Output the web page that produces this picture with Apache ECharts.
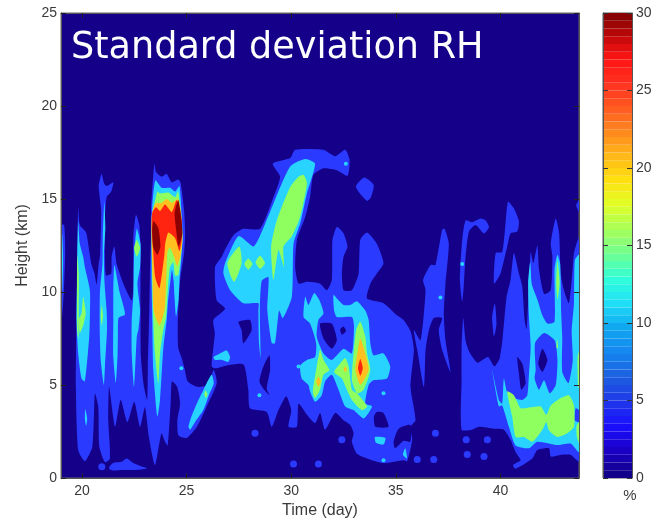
<!DOCTYPE html>
<html><head><meta charset="utf-8">
<style>html,body{margin:0;padding:0;background:#fff}#c{width:656px;height:519px;filter:blur(0.6px)}</style>
<script src="https://cdn.jsdelivr.net/npm/echarts@6/dist/echarts.min.js"></script>
</head><body><div id="c"></div>
<script>
const xTicks=[20,25,30,35,40];
const cbLevels=[0,.5,1,1.5,2,2.5,3,3.5,4,4.5,5,5.5,6,6.5,7,7.5,8,8.5,9,9.5,10,10.5,11,11.5,12,12.5,13,13.5,14,14.5,15,15.5,16,16.5,17,17.5,18,18.5,19,19.5,20,20.5,21,21.5,22,22.5,23,23.5,24,24.5,25,25.5,26,26.5,27,27.5,28,28.5,29,29.5];
const cbColors=['#12008a','#1a00c8','#1a10ff','#2038e8','#1c60e0','#1488f0','#10a8f0','#20e0f8','#30ffd8','#70ff90','#a8ff58','#e0ff28','#ffe010','#ffb818','#ff8820','#ff5820','#ff3020','#ff1414','#b80808','#700000'];

// contour regions, each vertex [day, km]
const band5=[
 [[19,13.6],[19.15,13.6],[19.2,12.26],[19.14,10.1],[19.04,8.5],[19,8.3]],
 [[19.75,9],[19.78,11],[19.82,14.6],[19.9,13.6],[20.2,13.2],[20.35,12.2],[20.45,11.5],[20.6,11],[20.7,10.4],[20.8,11.5],[20.87,12],[20.92,14.4],[20.8,15.7],[20.94,16.35],[21.07,15.8],[21.2,15.7],[21.5,15.9],[21.4,15.4],[21.18,15.1],[21.1,14],[21.1,12],[21.15,10.9],[21.4,11],[21.42,11.9],[21.55,12.45],[21.66,11.5],[21.98,10.45],[22.38,9.55],[22.46,10.45],[22.46,13],[22.58,14.15],[22.74,13.6],[22.8,12.25],[22.8,9.2],[22.82,6.5],[22.95,5],[23.12,4.2],[23.15,6],[23.22,9],[23.25,11],[23.3,13],[23.3,14.4],[23.46,16.9],[23.54,16.45],[23.81,16.2],[24.05,16.35],[24.29,15.9],[24.6,16.05],[24.72,15.85],[24.88,14.4],[24.93,13.15],[24.88,12.1],[24.69,10.65],[24.58,8.3],[24.6,7],[24.75,6.5],[24.9,5.9],[25.05,5.2],[25.5,4.9],[26,5],[26.3,5.8],[26.44,5.1],[25.96,3.85],[25.49,2.75],[25.01,2.15],[24.61,2.3],[24.56,3.1],[24.69,4],[24.55,4.9],[24.3,5.2],[24.24,4],[24.1,1.75],[23.95,2],[23.8,2.4],[23.49,.7],[23.2,2.2],[23.01,3.8],[22.78,2.76],[22.5,4.1],[22.17,3],[21.85,4.2],[21.58,2.76],[21.3,4.9],[21.26,3.1],[21.34,1.05],[21.1,.85],[20.83,1.7],[20.78,3.85],[20.62,4.55],[20.5,1.7],[20.14,.9],[19.82,1.5],[19.71,4.9],[19.74,8.5]],
 [[21.31,.6],[21.5,.82],[21.9,.88],[22.14,1.05],[22.46,.8],[22.78,.65],[23.13,.52],[22.6,.43],[21.9,.43],[21.5,.4],[21.31,.48]],
 [[26.28,8.5],[26.84,9.1],[26.44,9.55],[26.36,11.35],[26.68,11.9],[26.85,12.3],[27.24,13.05],[27.71,13.4],[28.51,13.4],[29.15,15.1],[29.47,16.2],[29.12,16.9],[29.95,17.2],[30.19,17.65],[31.54,17.65],[32.1,17.3],[32.58,17.65],[32.79,17.1],[32.69,16.25],[32.18,16.55],[31.54,16.65],[31.06,16.3],[30.9,15.1],[30.67,14.05],[30.27,12.8],[30.19,11.35],[30.35,10.45],[30.75,10.55],[31.38,10.45],[31.7,10.1],[31.94,10.65],[31.97,12.8],[32.18,13.5],[32.5,13.15],[32.69,12.45],[32.5,11.9],[32.42,11],[32.5,10.1],[32.9,10.1],[33.22,11],[33.3,12.8],[33.62,13.2],[34.09,12.6],[34.41,11.55],[34.09,11],[33.78,10.45],[33.62,9.65],[34.41,9.4],[35.05,8.75],[35.37,8.5],[35.7,7.9],[35.86,6.9],[35.7,4.9],[35.94,3.1],[35.7,2.75],[35.78,2.05],[35.54,.9],[35.37,.95],[34.41,.8],[33.62,1.05],[33.14,1.3],[32.9,1.95],[32.98,2.4],[32.82,2.85],[32.5,3.1],[32.1,3.5],[31.62,2.6],[31.38,3.5],[31.14,2.95],[30.75,3.4],[30.35,4],[30.27,2.75],[29.87,2.75],[30,3.65],[29.76,4.4],[29.39,3.65],[29.07,2.75],[28.83,3.55],[28.03,3.75],[27.95,4.75],[27.72,6.1],[26.92,6.05],[26.4,5.9],[26.2,6],[26.28,7],[26.35,7.8]],
 [[33.49,16.15],[33.94,15.75],[33.81,15.1],[33.62,14.9],[33.09,15.65]],
 [[36.3,10.65],[36.66,11.45],[36.89,11.45],[37.21,13.35],[37.33,13.4],[37.53,12.6],[37.37,10.45],[37.29,8.85],[37.37,7.4],[37.61,5.7],[37.21,6.9],[37.05,7.95],[37.21,8.6],[36.81,8.6],[36.58,7.95],[36.42,6.9],[36.34,4.9],[36.02,6.9],[35.86,7.95],[36.18,7.4],[36.42,10.1]],
 [[38.33,13.85],[38.65,13.75],[39.05,13.95],[39.29,13.85],[39.45,13.5],[39.21,13.15],[38.81,13.6],[38.49,13.25],[38.33,11.9],[38.25,10.45],[38.17,9.5],[38.06,10.65],[38.17,12.8]],
 [[39.73,9.4],[39.81,8.3],[39.69,7.6],[39.6,8.65]],
 [[40.36,14.85],[40.64,14.5],[40.88,13.8],[40.8,13.25],[40.48,13.15],[40.32,12.45],[40,11],[39.69,10.45],[39.77,12.1],[40.08,12.15],[40.24,13.7]],
 [[38.14,2.6],[38.14,5.25],[38.14,7],[38.22,8.6],[38.33,7.4],[38.5,6.8],[38.9,6.2],[39.4,6.5],[39.7,6],[39.95,6.4],[40.1,7.5],[40.29,9.75],[40.48,10.65],[40.64,12.1],[40.88,11],[41.04,10.3],[41.15,8.5],[41.25,8],[41.32,9.5],[41.44,12.15],[41.57,11.55],[41.76,12.5],[41.84,11.2],[42.08,9.9],[42.4,10.1],[42.48,11.9],[42.4,12.6],[42.64,13.95],[42.8,13.15],[42.88,11],[43.03,10.1],[43.27,9.4],[43.43,11],[43.51,12.1],[43.75,12.9],[43.75,.9],[43.35,1.25],[42.88,1.25],[42.4,1.15],[42.32,1.6],[41.76,1.5],[41.52,1.05],[40.72,.5],[40.6,.7],[40.96,.95],[40.72,1.4],[40.48,2.05],[40.16,2.6],[39.69,2.65],[38.97,2.75],[38.65,2.6]],
 [[43.75,14.95],[43.62,14.65],[43.75,14.3]]
];
const navyHoles=[
 [[27.48,8.4],[28.03,8.5],[28.11,7.95],[27.71,7.25],[27.63,7.95]],
 [[31.38,8.3],[31.94,8.3],[32.18,7.4],[31.94,6.95],[31.54,7.5]],
 [[32.34,8],[32.5,8.15],[32.62,7.9],[32.42,7.7]],
 [[28.96,6.6],[28.99,5.8],[28.83,4.8],[28.96,4.45],[28.67,4.8],[28.48,5.2],[28.67,6]],
 [[34.09,3.55],[34.41,3.5],[34.65,2.75],[34.02,2.75],[33.95,3.3]],
 [[35.13,2.65],[35.69,2.85],[35.69,1.95],[35.37,2.0],[34.97,1.6],[34.89,1.95]],
 [[40.8,6.5],[41.04,6.15],[41.2,5.1],[40.99,4.75],[40.88,5.6]]
];
const band10=[
 [[19,13.1],[19.06,13.1],[19.1,11.7],[19.06,10.1],[19,9.75]],
 [[19.82,13.8],[19.9,12.6],[20.06,11.9],[20.14,11.35],[20.38,10.1],[20.38,8.65],[20.35,7.6],[20.14,5.2],[19.98,5.35],[19.82,6.7],[19.74,8.5],[19.76,10.5],[19.78,12.25]],
 [[20.16,3.7],[20.25,3.2],[20.2,2.8],[20.14,3.2]],
 [[21.07,14.85],[21.12,13.5],[21.05,12],[21.08,10.5],[21.18,9],[21.2,8],[21.1,6],[21.05,5],[20.9,6.3],[20.85,8],[20.86,10],[20.98,11.5],[21,13]],
 [[21.55,11.45],[21.8,10],[22.06,8.8],[21.75,8.6],[21.72,7.8],[21.7,6.5],[21.62,5.1],[21.5,6.5],[21.5,8.5],[21.5,10]],
 [[22.62,13.4],[22.8,12.6],[22.78,11.35],[22.65,10.45],[22.78,9],[22.7,8],[22.62,7.6],[22.49,4.9],[22.38,6.7],[22.38,8.5],[22.46,9.9],[22.49,11.9]],
 [[23.51,16],[23.81,15.6],[24.21,15.6],[24.45,15.4],[24.66,15.7],[24.77,14.05],[24.82,13],[24.74,11.7],[24.66,10.6],[24.62,9.6],[24.5,8.7],[24.42,9.8],[24.38,10.6],[24.3,11.2],[24.25,10.8],[24.12,9.55],[24.05,8.5],[23.89,7],[23.73,4.2],[23.6,3.3],[23.41,5.8],[23.36,8.5],[23.33,10.45],[23.33,13.15],[23.36,14.6]],
 [[25.09,2.75],[25.2,3.2],[25.49,4],[25.96,5.1],[26.2,5.55],[26.3,5.1],[26.1,4.55],[25.8,3.65],[25.4,3],[25.17,2.6]],
 [[26.28,6.5],[26.6,6.7],[26.92,6.85],[27.08,6.5],[27,6.25],[26.68,6.35],[26.36,6.35]],
 [[26.84,11.55],[27.48,13],[28.19,12.45],[28.5,13],[29.15,14.75],[29.95,16.75],[30.67,17.15],[31.14,16.9],[30.75,15.3],[30.43,13.7],[30.11,12.6],[30.03,9.75],[29.6,8.6],[29.42,9],[29.23,7.25],[29.07,7.25],[28.86,9],[28.91,10.8],[28.59,10.6],[28.5,9],[28.54,6.45],[28.46,7.25],[28.43,9],[28.43,9.4],[27.71,9.4],[27.08,10.1],[26.76,11]],
 [[30.67,9.75],[30.82,9.3],[31.1,9.95],[31.35,9.55],[31.54,8.85],[31.3,8.5],[31.22,7.6],[31.54,6.7],[31.94,6.35],[32.5,6.95],[32.9,6.7],[33,8.15],[32.9,8.65],[32.18,8.65],[32.05,9],[32.02,9.85],[32.26,9.55],[32.5,9.3],[32.82,9.3],[33.14,9.5],[33.54,9],[33.7,8.5],[33.78,7.25],[33.93,6.6],[34.41,6.7],[34.73,6],[34.57,5.35],[33.93,5.25],[33.7,5],[33.54,4],[33.86,3.85],[33.46,3.2],[32.98,3.65],[32.58,3.85],[32.26,4.75],[31.94,5.55],[31.62,5.2],[31.46,4.45],[31.14,4.1],[30.9,4.65],[30.82,5],[30.5,5.35],[30.43,6.05],[30.75,6.35],[31.14,6.5],[31.19,7.25],[30.9,8.3],[30.59,8.65]],
 [[34,2.2],[34.5,2.15],[34.41,1.8],[34.05,1.9]],
 [[35.34,1.25],[35.45,1.6],[35.53,1.05]],
 [[39.6,5.8],[39.92,3.85],[40.08,3.9],[40.4,2.75],[40.72,1.75],[41.36,1.6],[41.76,1.95],[42.72,1.77],[43.35,1.85],[43.75,1.4],[43.75,12],[43.55,11.7],[43.51,9.4],[43.4,7.9],[43.45,6.3],[43.25,5.1],[42.95,5.7],[42.95,7.5],[42.9,8.9],[42.85,11.5],[42.72,12],[42.58,11.2],[42.58,8.4],[42.24,8.3],[42,8.75],[41.76,9.6],[41.5,10.4],[41.42,11.6],[41.32,10.5],[41.35,8.8],[41.44,7.05],[41.36,5.6],[41.28,4.45],[41.04,4.2],[40.64,4.3],[40.32,4.6],[40.16,5.35],[40.08,4.0],[39.92,4.2]]
];
const blueInCyan=[
 [[41.68,5.8],[41.65,7.25],[42.08,7.8],[42.59,7.4],[42.72,6.35],[42.64,5],[42.35,4.55],[42.08,5.25],[41.84,4.75],[41.63,5.35]],
 [[43.59,3.75],[43.75,3.65],[43.75,3],[43.54,3.1]]
];
const navyInCyan=[
 [[42,6.95],[42.24,6.35],[42,5.7],[41.8,6.15]]
];
const band15=[
 [[19.78,12],[19.85,11],[19.85,9],[19.84,7.5],[19.78,7.8],[19.77,10]],
 [[20.06,9.75],[20.18,8.85],[20.06,8.2],[19.9,7.8],[19.84,8.5],[19.98,8.85]],
 [[20.95,9.3],[21,8.7],[20.95,8.2],[20.9,8.7]],
 [[22.62,12.8],[22.78,12.35],[22.62,11.9],[22.49,12.35]],
 [[23.6,15.4],[23.73,15.3],[24.13,15.35],[24.45,15.1],[24.6,15.4],[24.72,14.05],[24.8,13],[24.72,11.8],[24.6,10.9],[24.45,10.9],[24.36,11.6],[24.2,11.3],[24.1,10.1],[24.02,8.65],[23.89,8],[23.73,6.7],[23.65,5.1],[23.49,6.7],[23.41,8.5],[23.36,10.5],[23.34,12.25],[23.36,14.05]],
 [[25.9,4.7],[26,4.5],[25.92,4.3],[25.85,4.5]],
 [[30.59,16.3],[30.75,15.85],[30.43,14.05],[30.03,13],[29.63,12.45],[29.66,11.35],[29.39,12.25],[29.15,10.65],[29.04,12.45],[29.31,13.85],[29.95,15.65],[30.35,16.2]],
 [[27.52,12.45],[27.63,11.55],[27.27,10.55],[26.95,11.55]],
 [[27.95,11.8],[28.15,11.5],[27.95,11.2],[27.76,11.5]],
 [[28.51,11.95],[28.75,11.55],[28.51,11.25],[28.3,11.6]],
 [[31.38,6.9],[31.54,6.35],[31.83,5.8],[31.54,5.55],[31.38,4.75],[31.14,4.3],[31.03,4.65],[31.22,6]],
 [[32.58,6.45],[32.74,6],[32.9,4.75],[33.14,4.55],[33.62,3.85],[33.38,3.65],[32.9,4.2],[32.66,4.75],[32.42,5.35],[32.05,5.7],[32.34,6.15]],
 [[33.3,8.4],[33.54,7.6],[33.62,6.7],[33.78,5.8],[33.46,4.75],[33.14,4.55],[32.9,5.25],[32.98,6.7],[33.1,7.95]],
 [[40.32,4.65],[40.64,4.45],[40.96,3.75],[41.44,3.8],[41.92,3.85],[42.19,3.4],[42.4,3.9],[42.88,4.3],[43.27,4.45],[43.51,3.9],[43.51,2.75],[43.19,2.4],[42.72,2.2],[42.32,2.55],[42.19,3],[42,2.6],[41.52,1.95],[41.12,2.2],[40.72,2.2],[40.56,3.3]],
 [[43.68,6.5],[43.75,6.8],[43.75,4.8],[43.7,5]],
 [[43.75,3],[43.63,2.8],[43.65,2.2],[43.75,1.9]],
 [[42.72,11.7],[42.82,10.5],[42.72,9.6],[42.66,10.5]],
 [[42.7,7.5],[42.75,7],[42.68,7]]
];
const band20=[
 [[23.49,14.75],[23.81,14.8],[24.05,15],[24.29,14.8],[24.6,15],[24.74,14.25],[24.8,12.8],[24.72,12],[24.55,11.4],[24.4,11.9],[24.2,12.4],[24.08,12.1],[24.02,10.45],[23.95,9.05],[23.7,8.2],[23.42,9.05],[23.38,10.8],[23.33,12.6],[23.33,14.05]],
 [[33.3,7.5],[33.54,6.7],[33.7,5.8],[33.3,5],[33.06,5.8],[33.19,6.9]],
 [[31.3,5.45],[31.41,5.2],[31.3,4.9],[31.19,5.2]],
 [[32.58,6],[32.66,5.85],[32.58,5.7],[32.5,5.85]]
];
const band25=[
 [[23.54,14.55],[23.73,14.35],[23.97,14.7],[24.29,14.3],[24.53,14.95],[24.74,14.05],[24.79,13],[24.66,12.2],[24.45,12.9],[24.13,13.2],[23.98,12.6],[23.95,12.1],[23.85,11.2],[23.7,10.2],[23.5,10.8],[23.4,12.25],[23.34,13.35],[23.36,14.25]],
 [[33.3,6.4],[33.42,5.9],[33.3,5.5],[33.19,5.9]]
];
const band28=[
 [[23.42,13.8],[23.65,13.45],[23.75,12.45],[23.6,12.0],[23.41,12.4],[23.36,13.35]],
 [[24.6,14.95],[24.74,14.05],[24.8,13.15],[24.62,12.45],[24.5,13.35],[24.43,14.25]]
];
const blueDots=[[20.95,.6],[28.27,2.4],[32.42,2.05],[31.3,.75],[30.11,.75],[38.36,2.05],[38.41,1.27],[39.21,1.15],[39.37,2.05],[36.81,1],[36.02,1],[36.89,2.4],[33.62,2.75]];
const cyanDots=[[32.61,16.9],[28.48,4.45],[34.41,4.55],[34.41,.95],[24.75,5.9],[37.13,9.7],[38.17,11.5],[30.35,6]];

const colors={navy:'#15008a',blue:'#2b3aff',cyan:'#28d4ff',green:'#8fff5f',orange:'#ffc020',red:'#ff2410',dark:'#8c0000'};
function layer(polys,color,z){
  return {type:'custom',coordinateSystem:'cartesian2d',xAxisIndex:0,yAxisIndex:0,clip:true,z:z,silent:true,
    data:polys.map((p,i)=>[p[0][0],p[0][1],i]),
    encode:{x:0,y:1},
    renderItem:(params,api)=>{
      const pts=polys[api.value(2)].map(v=>api.coord(v));
      return {type:'polygon',shape:{points:pts,smooth:0.2},style:{fill:color}};
    }};
}
function dots(arr,color,size,z){
  return {type:'scatter',xAxisIndex:0,yAxisIndex:0,data:arr,symbolSize:size,itemStyle:{color:color,opacity:1},z:z,silent:true};
}
const axisText={color:'#3a3a3a',fontFamily:'Liberation Sans',fontSize:14};
const lineDark={show:true,onZero:false,lineStyle:{color:'#555',width:1}};
const chart=echarts.init(document.getElementById('c'),null,{renderer:'canvas'});
chart.setOption({
  animation:false,
  backgroundColor:'#fff',
  title:{text:'Standard deviation RH',left:71,top:30,padding:0,textStyle:{color:'#fff',fontFamily:'Comic Sans MS, DejaVu Sans',fontWeight:'normal',fontSize:36.6},z:20},
  grid:[
    {left:61,top:13,width:518,height:465,outerBoundsMode:'none',show:true,backgroundColor:colors.navy,borderColor:'#666',borderWidth:1},
    {left:603,top:13,width:29,height:465,outerBoundsMode:'none',show:true,backgroundColor:'transparent',borderColor:'#555',borderWidth:1}
  ],
  xAxis:[
    {type:'value',gridIndex:0,min:19,max:43.75,position:'bottom',name:'Time (day)',nameLocation:'middle',nameGap:23,nameTextStyle:{...axisText,fontSize:16},
     axisLine:lineDark,splitLine:{show:false},z:10,
     axisTick:{inside:true,length:5,lineStyle:{color:'#222'},customValues:xTicks},axisLabel:{...axisText,margin:6,customValues:xTicks,formatter:v=>String(v)}},
    {type:'value',gridIndex:0,min:19,max:43.75,position:'top',axisLine:lineDark,splitLine:{show:false},z:10,
     axisTick:{inside:true,length:5,lineStyle:{color:'#222'},customValues:xTicks},axisLabel:{show:false}},
    {type:'value',gridIndex:1,min:0,max:1,show:false}
  ],
  yAxis:[
    {type:'value',gridIndex:0,min:0,max:25,interval:5,position:'left',name:'Height (km)',nameLocation:'middle',nameGap:21,nameTextStyle:{...axisText,fontSize:16},
     axisLine:lineDark,splitLine:{show:false},z:10,
     axisTick:{inside:true,length:5,lineStyle:{color:'#222'}},axisLabel:{...axisText,margin:4}},
    {type:'value',gridIndex:0,min:0,max:25,interval:5,position:'right',axisLine:lineDark,splitLine:{show:false},z:10,
     axisTick:{inside:true,length:5,lineStyle:{color:'#222'}},axisLabel:{show:false}},
    {type:'value',gridIndex:1,min:0,max:30,interval:5,position:'right',name:'%',nameLocation:'start',nameGap:10,nameTextStyle:{...axisText,fontSize:15,align:'center',verticalAlign:'top',padding:[0,4,0,0]},
     axisLine:lineDark,splitLine:{show:false},z:10,
     axisTick:{inside:true,length:5,lineStyle:{color:'#333'}},axisLabel:{...axisText,margin:4}},
    {type:'value',gridIndex:1,min:0,max:30,interval:5,position:'left',
     axisLine:lineDark,splitLine:{show:false},z:10,
     axisTick:{inside:true,length:5,lineStyle:{color:'#333'}},axisLabel:{show:false}}
  ],
  visualMap:{show:false,type:'continuous',seriesIndex:[0],dimension:1,min:0,max:30,inRange:{color:cbColors}},
  series:[
    {type:'custom',coordinateSystem:'cartesian2d',xAxisIndex:2,yAxisIndex:2,z:3,silent:true,
     data:cbLevels.map(v=>[0,v]),encode:{x:0,y:1},
     renderItem:(params,api)=>{
       const lv=api.value(1);
       const a=api.coord([0,lv]), b=api.coord([1,lv+0.5]);
       return {type:'rect',shape:{x:a[0],y:b[1],width:b[0]-a[0],height:a[1]-b[1]},style:{fill:api.visual('color')}};
     }},
    layer(band5,colors.blue,3),
    dots(blueDots,colors.blue,7,4),
    layer(navyHoles,colors.navy,5),
    layer(band10,colors.cyan,6),
    dots(cyanDots,colors.cyan,4,7),
    layer(blueInCyan,colors.blue,7),
    layer(navyInCyan,colors.navy,8),
    layer(band15,colors.green,9),
    layer(band20,colors.orange,10),
    layer(band25,colors.red,11),
    layer(band28,colors.dark,12)
  ]
});
</script></body></html>
